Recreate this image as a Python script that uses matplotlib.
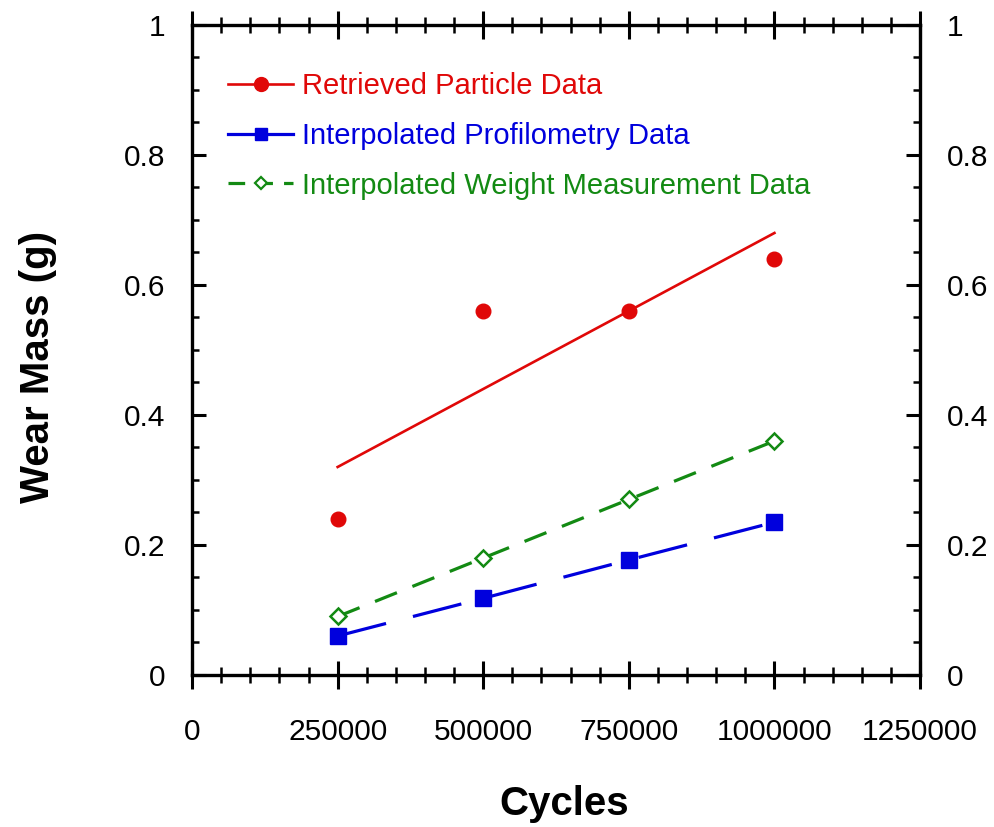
import numpy as np
import matplotlib.pyplot as plt
from matplotlib.ticker import MultipleLocator, FormatStrFormatter

plt.rcParams['font.family'] = ['Liberation Sans', 'DejaVu Sans']
plt.rcParams['font.size'] = 21.5

cycles = [250000, 500000, 750000, 1000000]
particle = [0.24, 0.56, 0.56, 0.64]
profilometry = [0.06, 0.118, 0.177, 0.235]
weight = [0.09, 0.18, 0.27, 0.36]

labels = ['Retrieved Particle Data', 'Interpolated Profilometry Data',
          'Interpolated Weight Measurement Data']
red, blue, green = '#e00808', '#0000dd', '#138a13'

fig = plt.figure(figsize=(9.94, 8.27), dpi=100)
ax = fig.add_axes([0.1932, 0.1838, 0.7324, 0.786])

# linear fit through the retrieved particle points
k, b = np.polyfit(cycles, particle, 1)
fit_x = np.array([cycles[0], cycles[-1]])
ax.plot(fit_x, k * fit_x + b, color=red, lw=1.9)
ax.plot(cycles, particle, 'o', color=red, ms=10.5, ls='none')

lw = 2.3
ax.plot(cycles, profilometry, color=blue, lw=lw, ls=(0, (36 / lw, 20 / lw)),
        marker='s', ms=11)
ax.plot(cycles, weight, color=green, lw=lw, ls=(0, (17 / lw, 12 / lw)),
        marker='D', ms=8, mfc='white', mew=1.8)

# legend handles
h1, = ax.plot([], [], color=red, lw=1.9, marker='o', ms=10)
h2, = ax.plot([], [], color=blue, lw=lw, marker='s', ms=8)
h3, = ax.plot([], [], color=green, lw=lw, ls=(0, (12 / lw, 8 / lw)),
              marker='D', ms=6, mfc='white', mew=1.6)
ax.legend([h1, h2, h3], labels, loc='upper left', bbox_to_anchor=(0.049, 0.927),
          frameon=False, borderpad=0, borderaxespad=0, handlelength=2.25,
          handletextpad=0.3, labelspacing=0.74, labelcolor='linecolor',
          fontsize=21)

ax.set_xlim(0, 1250000)
ax.set_ylim(0, 1)
ax.xaxis.set_major_locator(MultipleLocator(250000))
ax.xaxis.set_minor_locator(MultipleLocator(50000))
ax.xaxis.set_major_formatter(FormatStrFormatter('%d'))
ax.yaxis.set_minor_locator(MultipleLocator(0.05))
ax.set_yticks([0, 0.2, 0.4, 0.6, 0.8, 1])
ax.set_yticklabels(['0', '0.2', '0.4', '0.6', '0.8', '1'])

ax.tick_params(axis='x', which='major', direction='inout', length=20, width=2.2,
               top=True, pad=21)
ax.tick_params(axis='x', which='minor', direction='inout', length=11, width=1.8,
               top=True)
ax.tick_params(axis='y', which='major', direction='in', length=10, width=2.2,
               right=True, labelright=True, pad=19)
ax.tick_params(axis='y', which='minor', direction='in', length=5, width=1.8,
               right=True)
for s in ax.spines.values():
    s.set_linewidth(2.4)

ax.set_xlabel('Cycles', fontsize=29, fontweight='bold', labelpad=28)
ax.set_ylabel('Wear Mass (g)', fontsize=29, fontweight='bold', labelpad=48)
ax.xaxis.label.set_x(0.511)
ax.yaxis.label.set_y(0.474)

fig.savefig('out.png', dpi=100)
